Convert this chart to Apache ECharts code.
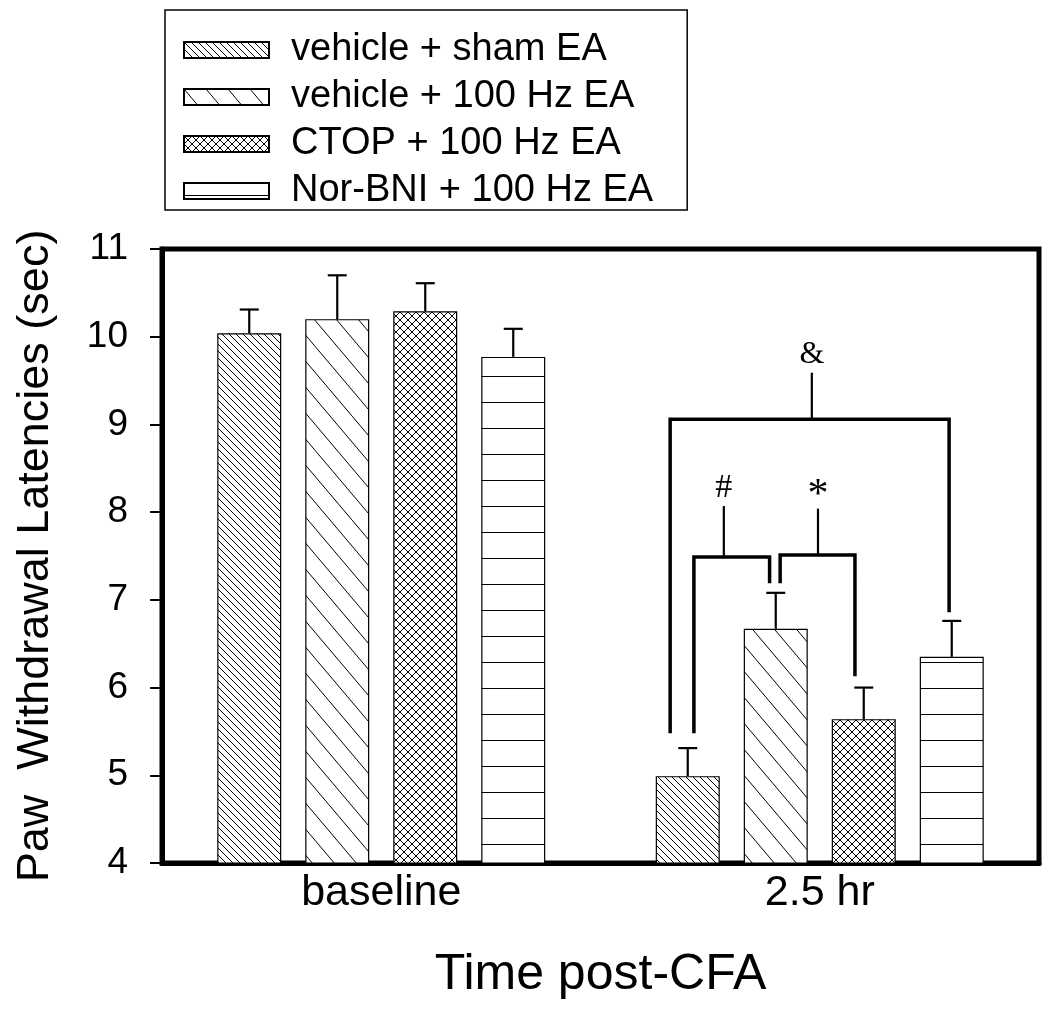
<!DOCTYPE html>
<html><head><meta charset="utf-8">
<script src="https://cdn.jsdelivr.net/npm/echarts@6/dist/echarts.min.js"></script>
<style>html,body{margin:0;padding:0;background:#fff}#c{width:1050px;height:1024px}</style>
</head><body><div id="c"></div>
<script>
// ---- data ----
const categories = ['baseline', '2.5 hr'];
const seriesNames = ['vehicle + sham EA', 'vehicle + 100 Hz EA', 'CTOP + 100 Hz EA', 'Nor-BNI + 100 Hz EA'];
const vehicleSham = [10.04, 4.99];
const vehicleShamErr = [0.27, 0.32];
const vehicle100 = [10.20, 6.67];
const vehicle100Err = [0.50, 0.41];
const ctop100 = [10.29, 5.64];
const ctop100Err = [0.32, 0.36];
const norbni100 = [9.77, 6.35];
const norbni100Err = [0.32, 0.41];
const yMin = 4, yMax = 11, yInterval = 1;
// significance brackets (category index, positions in bar-slot units from first bar, y in data units)
const bracketLabels = ['&', '#', '*'];
const bracketCat = [1, 1, 1];
const bracketLeftSlot = [-0.2, 0.07, 1.05];
const bracketRightSlot = [2.97, 0.93, 1.9];
const bracketStemSlot = [1.41, 0.41, 1.48];
const bracketY = [9.06, 7.49, 7.51];
const bracketLeftEnd = [5.48, 5.48, 7.19];
const bracketRightEnd = [6.86, 7.19, 6.13];
const bracketStemTop = [9.59, 8.07, 8.04];
const bracketLabelY = [9.80, 8.27, 8.18];

// ---- layout / style ----
const BAR_W = 64, BAR_GAP = 24, SLOT = BAR_W + BAR_GAP;
const FONT = '"Liberation Sans", Arial, Helvetica, sans-serif';
const SERIF = '"Liberation Serif", "Times New Roman", serif';

function makePattern(kind) {
  const c = document.createElement('canvas');
  let w, h;
  if (kind === 'dense') { w = 7; h = 7; }
  else if (kind === 'sparse') { w = 22; h = 26; }
  else if (kind === 'cross') { w = 8; h = 8; }
  else { w = 8; h = 26; }
  c.width = w; c.height = h;
  const g = c.getContext('2d');
  g.fillStyle = '#fff'; g.fillRect(0, 0, w, h);
  g.strokeStyle = '#000'; g.lineWidth = 1;
  if (kind === 'dense' || kind === 'sparse' || kind === 'cross') {
    for (let k = -1; k <= 1; k++) {
      g.beginPath(); g.moveTo(k * w, 0); g.lineTo(k * w + w, h); g.stroke();
    }
  }
  if (kind === 'cross') {
    for (let k = -1; k <= 1; k++) {
      g.beginPath(); g.moveTo(k * w + w, 0); g.lineTo(k * w, h); g.stroke();
    }
  }
  if (kind === 'horiz') {
    g.fillStyle = '#000'; g.fillRect(0, 12, w, 1);
  }
  return { image: c, repeat: 'repeat' };
}
const patterns = [makePattern('dense'), makePattern('sparse'), makePattern('cross'), makePattern('horiz')];
const values = [vehicleSham, vehicle100, ctop100, norbni100];
const errs = [vehicleShamErr, vehicle100Err, ctop100Err, norbni100Err];

const barSeries = seriesNames.map((name, i) => ({
  name, type: 'bar', data: values[i], barWidth: BAR_W, barGap: (BAR_GAP / BAR_W * 100) + '%',
  itemStyle: { color: patterns[i], borderColor: '#000', borderWidth: 1.2 },
  emphasis: { disabled: true }, z: 2
}));

const errData = [];
values.forEach((arr, si) => arr.forEach((v, ci) => errData.push([ci, v, errs[si][ci], si])));

const errorSeries = {
  type: 'custom', coordinateSystem: 'cartesian2d', data: errData, encode: { x: 0, y: 1 }, z: 3, silent: true,
  renderItem(params, api) {
    const ci = api.value(0), v = api.value(1), e = api.value(2), si = api.value(3);
    const off = (si - 1.5) * SLOT;
    const p0 = api.coord([ci, v]), p1 = api.coord([ci, v + e]);
    const x = p0[0] + off;
    const st = { stroke: '#000', lineWidth: 2.2 };
    return { type: 'group', children: [
      { type: 'line', shape: { x1: x, y1: p0[1], x2: x, y2: p1[1] }, style: st },
      { type: 'line', shape: { x1: x - 9.5, y1: p1[1], x2: x + 9.5, y2: p1[1] }, style: st }
    ]};
  }
};

const brData = bracketLabels.map((l, i) => [bracketCat[i], bracketY[i], i]);
const bracketSeries = {
  type: 'custom', coordinateSystem: 'cartesian2d', data: brData, encode: { x: 0, y: 1 }, z: 4, silent: true, clip: false,
  renderItem(params, api) {
    const i = api.value(2);
    const ci = api.value(0);
    const xs = s => api.coord([ci, yMin])[0] + (s - 1.5) * SLOT;
    const ys = v => api.coord([ci, v])[1];
    const xl = xs(bracketLeftSlot[i]), xr = xs(bracketRightSlot[i]), xm = xs(bracketStemSlot[i]);
    const yb = ys(bracketY[i]);
    const fs = bracketLabels[i] === '*' ? 42 : (bracketLabels[i] === '#' ? 34 : 32);
    return { type: 'group', children: [
      { type: 'polyline', shape: { points: [[xl, ys(bracketLeftEnd[i])], [xl, yb], [xr, yb], [xr, ys(bracketRightEnd[i])]] },
        style: { stroke: '#000', lineWidth: 3.5, fill: null, lineJoin: 'miter' } },
      { type: 'line', shape: { x1: xm, y1: yb, x2: xm, y2: ys(bracketStemTop[i]) }, style: { stroke: '#000', lineWidth: 2.2 } },
      { type: 'text', x: xm, y: ys(bracketLabelY[i]),
        style: { text: bracketLabels[i], fill: '#000', font: fs + 'px ' + SERIF, align: 'center', verticalAlign: 'middle' } }
    ]};
  }
};

const chart = echarts.init(document.getElementById('c'), null, { renderer: 'canvas' });
chart.setOption({
  animation: false,
  backgroundColor: '#fff',
  grid: { left: 162, right: 11, top: 249, bottom: 161, show: true, borderColor: '#000', borderWidth: 5, containLabel: false },
  legend: {
    data: seriesNames, orient: 'vertical', left: 165, top: 10, icon: 'rect',
    itemWidth: 85, itemHeight: 16, itemGap: 9,
    padding: [21, 34, 0, 18],
    borderColor: '#000', borderWidth: 1.5,
    textStyle: { fontFamily: FONT, fontSize: 38, color: '#000', padding: [0, 0, 0, 17] },
    selectedMode: false
  },
  xAxis: {
    type: 'category', data: categories,
    axisLine: { lineStyle: { color: '#000', width: 5 } },
    axisTick: { alignWithLabel: true, length: 10, lineStyle: { color: '#000', width: 2 } },
    axisLabel: { fontFamily: FONT, fontSize: 43, color: '#000', margin: 9 },
    name: 'Time post-CFA', nameLocation: 'middle', nameGap: 87,
    nameTextStyle: { fontFamily: FONT, fontSize: 50, color: '#000' }
  },
  yAxis: {
    type: 'value', min: yMin, max: yMax, interval: yInterval,
    splitLine: { show: false },
    axisLine: { show: true, lineStyle: { color: '#000', width: 5 } },
    axisTick: { show: true, length: 12, lineStyle: { color: '#000', width: 2 } },
    axisLabel: { fontFamily: FONT, fontSize: 37, color: '#000', margin: 34 },
    name: 'Paw  Withdrawal Latencies (sec)', nameLocation: 'middle', nameGap: 104,
    nameTextStyle: { fontFamily: FONT, fontSize: 45, color: '#000' }
  },
  series: [...barSeries, errorSeries, bracketSeries]
});
</script>
</body></html>
